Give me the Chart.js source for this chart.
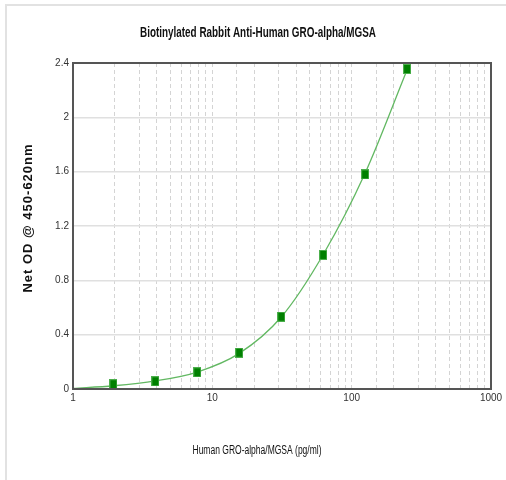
<!DOCTYPE html>
<html>
<head>
<meta charset="utf-8">
<script src="https://cdn.jsdelivr.net/npm/chart.js@4"></script>
<style>
  html, body { margin: 0; padding: 0; background: #fff; overflow: hidden; }
  #wrap { width: 506px; height: 480px; }
</style>
</head>
<body>
<div id="wrap"><canvas id="c" width="506" height="480"></canvas></div>
<script>
// standard concentrations (pg/ml) and measured OD
var conc = [1.95, 3.9, 7.8, 15.6, 31.25, 62.5, 125, 250];
var od = [0.035, 0.057, 0.123, 0.267, 0.532, 0.987, 1.58, 2.356];

// fitted curve
var curveX = [1, 1.95, 3.9, 7.8, 15.6, 31.25, 62.5, 125, 250];
var curveY = [0.004, 0.024, 0.06, 0.125, 0.262, 0.53, 0.99, 1.59, 2.35];

var xTicks = [1, 10, 100, 1000];
var yTicks = [0, 0.4, 0.8, 1.2, 1.6, 2, 2.4];

var chartTitle = 'Biotinylated Rabbit Anti-Human GRO-alpha/MGSA';
var xTitle = 'Human GRO-alpha/MGSA (pg/ml)';
var yTitle = 'Net OD @ 450-620nm';

var sans = '"Liberation Sans", Arial, sans-serif';

// narrow text: squeeze a normal font to the wanted width
function narrowText(ctx, text, cx, cy, font, w) {
  ctx.save();
  ctx.font = font;
  var k = w / ctx.measureText(text).width;
  ctx.translate(cx, cy);
  ctx.scale(k, 1);
  ctx.fillText(text, 0, 0);
  ctx.restore();
}

// marker: small upright green rectangle
var marker = document.createElement('canvas');
marker.width = 8; marker.height = 10;
(function() {
  var m = marker.getContext('2d');
  m.fillStyle = '#4caf4c';
  m.fillRect(0, 0, 8, 10);
  m.fillStyle = '#008000';
  m.fillRect(1, 1, 6, 8);
})();

var decor = {
  id: 'decor',
  beforeDraw: function(chart) {
    var ctx = chart.ctx;
    ctx.save();
    ctx.strokeStyle = '#e2e2e2';
    ctx.lineWidth = 2;
    ctx.beginPath();
    ctx.moveTo(6, 480);
    ctx.lineTo(6, 5);
    ctx.lineTo(506, 5);
    ctx.stroke();
    ctx.restore();
  },
  afterDatasetsDraw: function(chart) {
    var ctx = chart.ctx, a = chart.chartArea;
    ctx.save();
    ctx.strokeStyle = '#555';
    ctx.lineWidth = 2;
    ctx.strokeRect(a.left, a.top, a.right - a.left, a.bottom - a.top);
    ctx.restore();
  },
  afterDraw: function(chart) {
    var ctx = chart.ctx;
    ctx.save();
    ctx.fillStyle = '#111';
    ctx.textAlign = 'center';
    ctx.textBaseline = 'middle';
    narrowText(ctx, chartTitle, 258, 33, 'bold 14px ' + sans, 236);
    narrowText(ctx, xTitle, 257, 451, '12px ' + sans, 129);

    ctx.translate(28, 218);
    ctx.rotate(-Math.PI / 2);
    ctx.font = 'bold 13px ' + sans;
    ctx.letterSpacing = '1px';
    ctx.fillText(yTitle, 0, 0);
    ctx.restore();
  }
};

new Chart(document.getElementById('c'), {
  type: 'scatter',
  data: {
    datasets: [{
      type: 'line',
      data: curveX.map(function(x, i) { return {x: x, y: curveY[i]}; }),
      borderColor: '#62b862',
      borderWidth: 1.3,
      pointRadius: 0,
      fill: false,
      cubicInterpolationMode: 'monotone',
      order: 2
    }, {
      data: conc.map(function(x, i) { return {x: x, y: od[i]}; }),
      pointStyle: marker,
      pointRadius: 5,
      order: 1
    }]
  },
  options: {
    responsive: false,
    animation: false,
    layout: { padding: { left: 33, right: 15, top: 63, bottom: 71 } },
    plugins: { legend: { display: false }, tooltip: { enabled: false } },
    scales: {
      x: {
        type: 'logarithmic',
        min: 1,
        max: 1000,
        afterFit: function(s) { s.height = 20; },
        border: { display: false, dash: [4, 3] },
        grid: { color: '#d4d4d4', lineWidth: 1, drawTicks: false },
        ticks: {
          autoSkip: false,
          maxRotation: 0,
          padding: 3,
          color: '#333',
          font: { family: sans, size: 10 },
          callback: function(v) { return xTicks.indexOf(v) >= 0 ? String(v) : ''; }
        }
      },
      y: {
        min: 0,
        max: 2.4,
        afterBuildTicks: function(s) { s.ticks = yTicks.map(function(v) { return {value: v}; }); },
        afterFit: function(s) { s.width = 40; },
        border: { display: false },
        grid: { color: '#e0e0e0', lineWidth: 1.5, drawTicks: false },
        ticks: {
          padding: 4,
          color: '#333',
          font: { family: sans, size: 10 },
          callback: function(v) { return String(v); }
        }
      }
    }
  },
  plugins: [decor]
});
</script>
</body>
</html>
